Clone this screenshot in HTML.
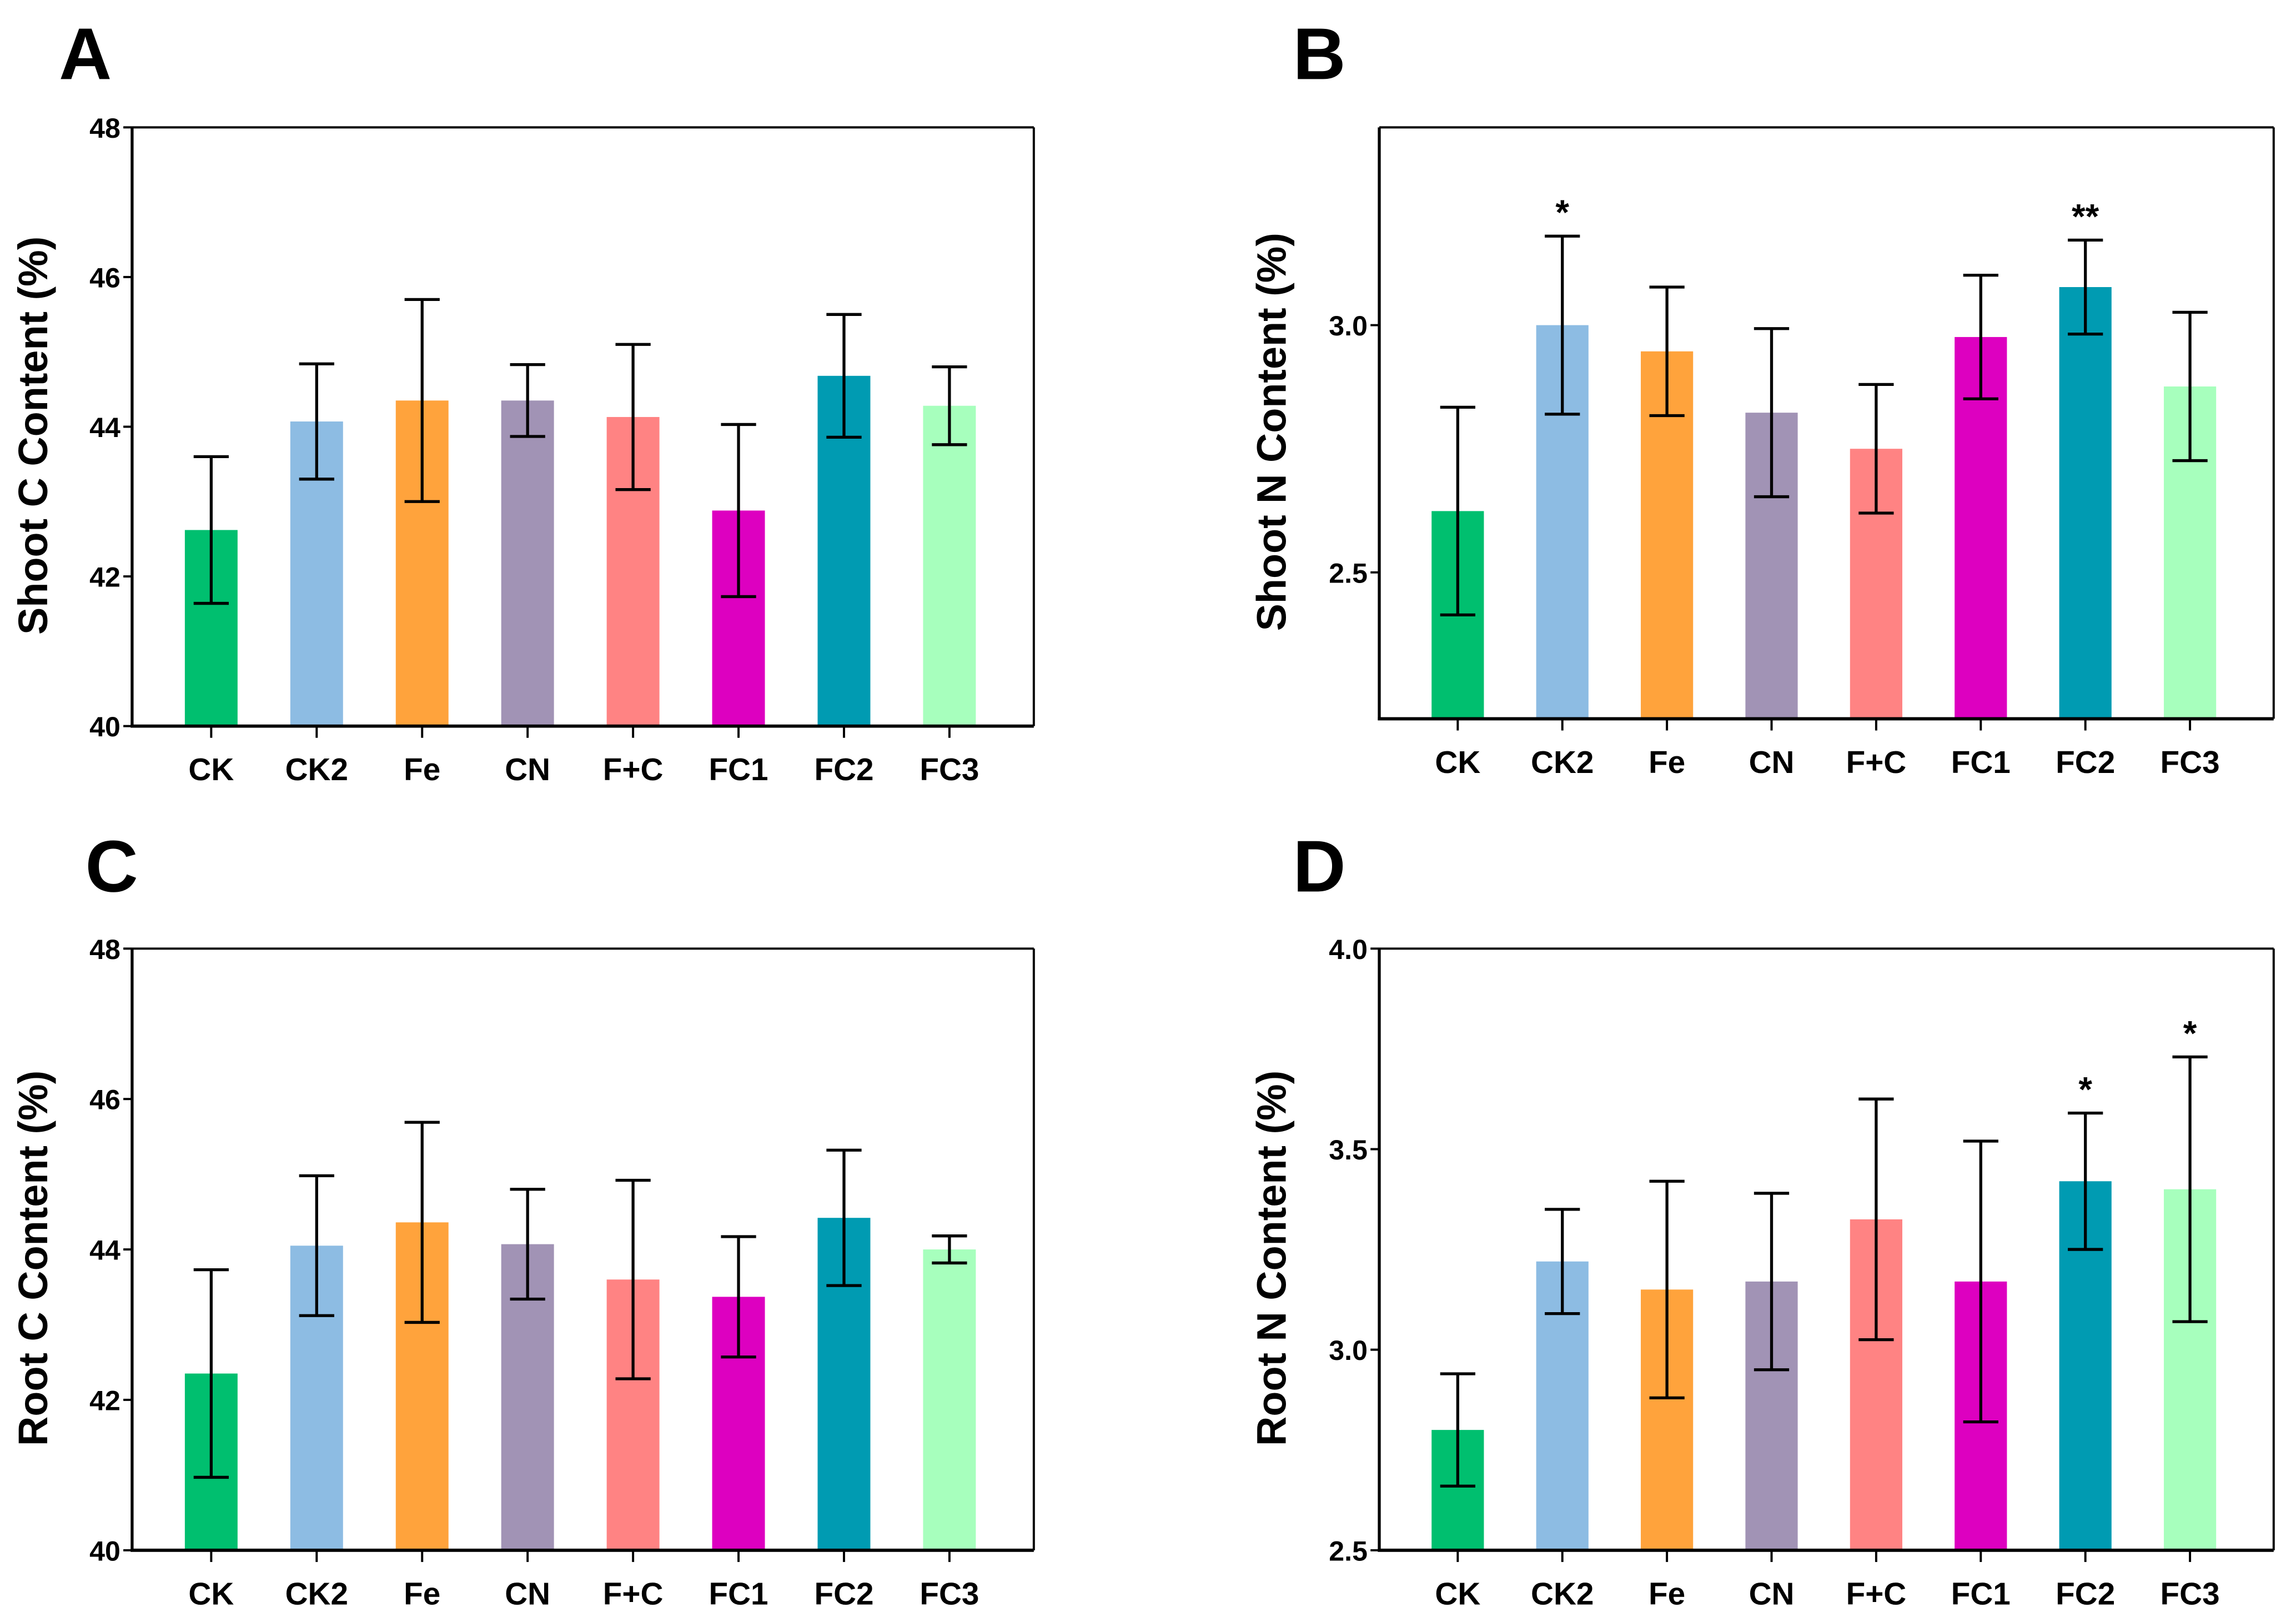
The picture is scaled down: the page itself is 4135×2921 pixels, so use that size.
<!DOCTYPE html>
<html><head><meta charset="utf-8"><style>
html,body{margin:0;padding:0;background:#fff}
svg{display:block}
text{font-family:"Liberation Sans",Arial,sans-serif;font-weight:bold;fill:#000}
</style></head><body>
<svg id="fig" width="4135" height="2921" viewBox="0 0 1568 1108" xmlns="http://www.w3.org/2000/svg"></svg>
<script>
const categories = ["CK","CK2","Fe","CN","F+C","FC1","FC2","FC3"];
const colors = ["#00bf6f","#8dbce3","#ffa33c","#a193b5","#ff8383","#dd00c0","#009bb2","#a7ffbd"];
const shootCMeans = [42.62,44.07,44.35,44.35,44.13,42.88,44.68,44.28];
const shootCErr   = [0.98,0.77,1.35,0.48,0.97,1.15,0.82,0.52];
const shootNMeans = [2.624,3.0,2.947,2.823,2.75,2.976,3.077,2.876];
const shootNErr   = [0.21,0.18,0.13,0.17,0.13,0.125,0.095,0.15];
const shootNSig   = ["","*","","","","","**",""];
const rootCMeans  = [42.35,44.05,44.36,44.07,43.6,43.37,44.42,44.0];
const rootCErr    = [1.38,0.93,1.33,0.73,1.32,0.8,0.9,0.18];
const rootNMeans  = [2.80,3.22,3.15,3.17,3.325,3.17,3.42,3.40];
const rootNErr    = [0.14,0.13,0.27,0.22,0.30,0.35,0.17,0.33];
const rootNSig    = ["","","","","","","*","*"];
const ticksC = [40,42,44,46,48];
const ticksShootN = [2.5,3.0];
const ticksRootN = [2.5,3.0,3.5,4.0];

const svg = document.getElementById('fig');
const NS = "http://www.w3.org/2000/svg";
function el(tag, attrs, parent){
  const e = document.createElementNS(NS, tag);
  for (const k in attrs) e.setAttribute(k, attrs[k]);
  (parent||svg).appendChild(e);
  return e;
}

function panel(p){
  const g = el('g', {});
  
  
  const y = v => p.bottom - (v - p.ymin) / (p.ymax - p.ymin) * (p.bottom - p.top);
  const step = (p.right - p.left) / 8.55;
  const x = i => p.left + step * (0.75 + i);
  const bw = step * 0.5;
  p.means.forEach((m, i) => {
    const r = el('rect', {x: x(i) - bw/2, y: y(m), width: bw, height: p.bottom - y(m), fill: colors[i]}, g);
    
    
  });
  p.means.forEach((m, i) => {
    const e = p.err[i];
    const eg = el('g', {stroke: '#000', 'stroke-width': 2}, g);
    
    
    el('line', {x1: x(i), x2: x(i), y1: y(m+e), y2: y(m-e)}, eg);
    el('line', {x1: x(i)-12, x2: x(i)+12, y1: y(m+e), y2: y(m+e)}, eg);
    el('line', {x1: x(i)-12, x2: x(i)+12, y1: y(m-e), y2: y(m-e)}, eg);
    if (p.sig && p.sig[i]) {
      const t = el('text', {x: x(i), y: y(m+e) - 8, 'text-anchor': 'middle', 'font-size': 24}, g);
      t.textContent = p.sig[i];
      
      
    }
  });
  el('line', {x1: p.left, x2: p.right, y1: p.top, y2: p.top, stroke: '#000', 'stroke-width': 1.5}, g);
  el('line', {x1: p.right, x2: p.right, y1: p.top, y2: p.bottom, stroke: '#000', 'stroke-width': 1.5}, g);
  const ya = el('line', {x1: p.left, x2: p.left, y1: p.top, y2: p.bottom+1, stroke: '#000', 'stroke-width': 2}, g);
  
  
  const xa = el('line', {x1: p.left-1, x2: p.right, y1: p.bottom, y2: p.bottom, stroke: '#000', 'stroke-width': 2.2}, g);
  
  
  p.ticks.forEach(v => {
    el('line', {x1: p.left-6, x2: p.left, y1: y(v), y2: y(v), stroke: '#000', 'stroke-width': 1.5}, g);
    const t = el('text', {x: p.left-8, y: y(v)+7, 'text-anchor': 'end', 'font-size': 19}, g);
    t.textContent = p.fmt(v);
    
    
  });
  categories.forEach((c, i) => {
    el('line', {x1: x(i), x2: x(i), y1: p.bottom, y2: p.bottom+8, stroke: '#000', 'stroke-width': 1.5}, g);
    const t = el('text', {x: x(i), y: p.bottom+37, 'text-anchor': 'middle', 'font-size': 21.5}, g);
    t.textContent = c;
    
    
  });
  const cy = (p.top + p.bottom) / 2 + 6;
  const yt = el('text', {x: 0, y: 0, 'text-anchor': 'middle', 'font-size': 28, transform: `translate(${p.titleX},${cy}) rotate(-90)`}, g);
  yt.textContent = p.title;
  
  
  const L = el('text', {x: p.letterX, y: p.letterY, 'font-size': 50}, g);
  L.textContent = p.letter;
  
  
}

const f0 = v => String(v);
const f1 = v => v.toFixed(1);
panel({name:'panel-a-shoot-c', left:90, right:706, top:87, bottom:496, ymin:40, ymax:48, means:shootCMeans, err:shootCErr, ticks:ticksC, fmt:f0, title:'Shoot C Content (%)', titleX:32, letter:'A', letterX:40, letterY:54});
panel({name:'panel-b-shoot-n', left:942, right:1553, top:87, bottom:491, ymin:2.204, ymax:3.40, means:shootNMeans, err:shootNErr, sig:shootNSig, ticks:ticksShootN, fmt:f1, title:'Shoot N Content (%)', titleX:878, letter:'B', letterX:883, letterY:54});
panel({name:'panel-c-root-c', left:90, right:706, top:648, bottom:1059, ymin:40, ymax:48, means:rootCMeans, err:rootCErr, ticks:ticksC, fmt:f0, title:'Root C Content (%)', titleX:32, letter:'C', letterX:58, letterY:609});
panel({name:'panel-d-root-n', left:942, right:1553, top:648, bottom:1059, ymin:2.5, ymax:4.0, means:rootNMeans, err:rootNErr, sig:rootNSig, ticks:ticksRootN, fmt:f1, title:'Root N Content (%)', titleX:878, letter:'D', letterX:883, letterY:609});
</script>
</body></html>
